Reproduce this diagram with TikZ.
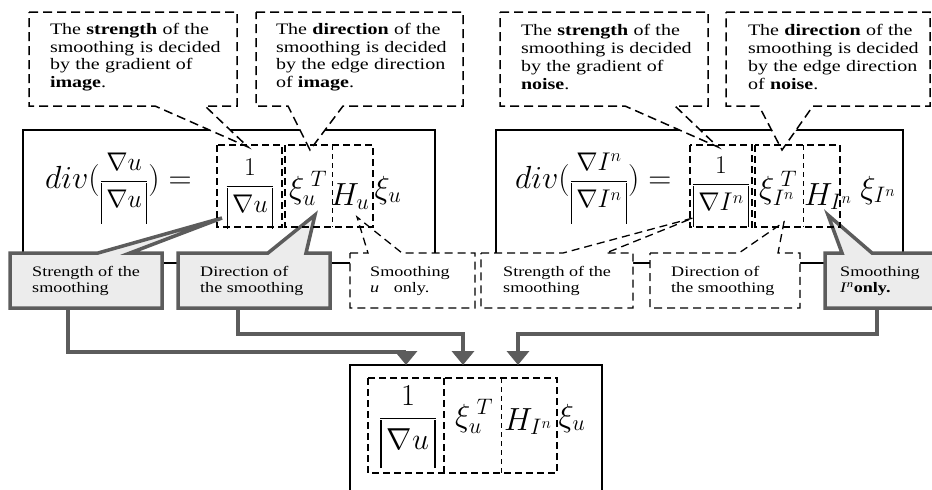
\RequirePackage{fix-cm}
\documentclass[tikz,border=0pt]{standalone}
\usepackage{fontspec}
\setmainfont{Liberation Serif}[FakeStretch=1.25]
\usepackage{graphicx}
\usetikzlibrary{arrows.meta}
\definecolor{callgray}{HTML}{5C5C5C}
\definecolor{callfill}{HTML}{ECECEC}
\newcommand{\termfrac}[3][0.8]{\scalebox{#1}{$\displaystyle\frac{#2}{#3}$}}
\newcommand{\absbar}[1]{\vrule width 1.6pt height 31pt depth 20pt\,#1\,\vrule width 1.6pt height 31pt depth 20pt}
\newcommand{\fullline}[1]{\makebox[172pt][s]{#1}}

\begin{document}
\begin{tikzpicture}[x=1pt, y=-1pt,
    frame/.style={draw, line width=2.4pt},
    note/.style={draw, fill=white, line width=1.5pt, dash pattern=on 9pt off 5pt},
    lownote/.style={draw, fill=white, line width=1.3pt, dash pattern=on 8pt off 5pt},
    greycall/.style={draw=callgray, fill=callfill, line width=3.5pt},
    term/.style={draw, line width=2pt, dash pattern=on 7pt off 4pt},
    divider/.style={draw, line width=1pt, dash pattern=on 5pt off 4pt},
    notetext/.style={font=\fontsize{16}{17.7}\selectfont, text width=172pt, align=left, inner sep=0pt},
    tag/.style={font=\fontsize{14.5}{16}\selectfont, align=left, anchor=west, inner sep=0pt},
    eq/.style={inner sep=0pt, anchor=base, font=\fontsize{32}{36}\selectfont},
    garr/.style={draw=callgray, line width=4.5pt, -{Triangle[width=22pt,length=14pt]}}
]
    \useasboundingbox (0,0) rectangle (932,490);

    % formula frames
    \draw[frame] (23,130) rectangle (435,263);
    \draw[frame] (496,130) rectangle (903,263);
    \draw[frame] (350,495) -- (350,365) -- (602,365) -- (602,495);

    % upper notes
    \draw[note] (29,12) -- (237,12) -- (237,106) -- (205,106) -- (248,147) -- (155,106) -- (29,106) -- cycle;
    \node[notetext] (strImg) at (136,57) {\fullline{The \textbf{strength} of the}\\\fullline{smoothing is decided}\\\fullline{by the gradient of}\\\textbf{image}.};
    \draw[note] (256,12) -- (463,12) -- (463,106) -- (343,106) -- (310,150) -- (288,106) -- (256,106) -- cycle;
    \node[notetext] (dirImg) at (362,57) {\fullline{The \textbf{direction} of the}\\\fullline{smoothing is decided}\\\fullline{by the edge direction}\\of \textbf{image}.};
    \draw[note] (500,12) -- (708,12) -- (708,106) -- (675,106) -- (718,147) -- (625,106) -- (500,106) -- cycle;
    \node[notetext] (strNoi) at (607,57) {\fullline{The \textbf{strength} of the}\\\fullline{smoothing is decided}\\\fullline{by the gradient of}\\\textbf{noise}.};
    \draw[note] (726,12) -- (930,12) -- (930,106) -- (813,106) -- (782,150) -- (759,106) -- (726,106) -- cycle;
    \node[notetext] (dirNoi) at (834,57) {\fullline{The \textbf{direction} of the}\\\fullline{smoothing is decided}\\\fullline{by the edge direction}\\of \textbf{noise}.};

    % lower tags
    \draw[greycall] (10,253) -- (98,253) -- (222,218) -- (130,253) -- (162,253) -- (162,308) -- (10,308) -- cycle;
    \node[tag] (strTag) at (32,281) {Strength of the\\smoothing};
    \draw[greycall] (178,253) -- (268,253) -- (315,215) -- (306,253) -- (330,253) -- (330,308) -- (178,308) -- cycle;
    \node[tag] (dirTag) at (200,281) {Direction of\\the smoothing};
    \draw[lownote] (350,253) -- (368,253) -- (357,217) -- (402,253) -- (475,253) -- (475,308) -- (350,308) -- cycle;
    \node[tag] (uTag) at (370,281) {Smoothing\\\textit{u}\quad only.};
    \draw[lownote] (481,253) -- (563,253) -- (693,218) -- (606,253) -- (633,253) -- (633,308) -- (481,308) -- cycle;
    \node[tag] (strTagN) at (503,281) {Strength of the\\smoothing};
    \draw[lownote] (650,253) -- (739,253) -- (784,222) -- (778,253) -- (800,253) -- (800,308) -- (650,308) -- cycle;
    \node[tag] (dirTagN) at (671,281) {Direction of\\the smoothing};
    \draw[greycall] (825,253) -- (842,253) -- (828,215) -- (872,253) -- (940,253) -- (940,308) -- (825,308) -- cycle;
    \node[tag] (nTag) at (840,281) {Smoothing\\\textit{I}\textsuperscript{\textit{n}}\textbf{only.}};

    % left formula
    \draw[term] (217,145) rectangle (282,227);
    \draw[term] (285,145) rectangle (373,227);
    \draw[divider] (332,145) -- (332,227);
    \node[eq, anchor=base west] (lhsU) at (45,188) {$div(\termfrac{\nabla u}{\absbar{\nabla u}})=$};
    \node[eq] (fracU) at (250,193) {\termfrac{1}{\absbar{\nabla u}}};
    \node[eq] (xiTU) at (308,198) {$\xi_u^{\;T}$};
    \node[eq] (hU) at (350,205) {$H_u$};
    \node[eq] (xiU) at (388,198) {$\xi_u$};

    % right formula
    \draw[term] (690,145) rectangle (752,227);
    \draw[term] (755,145) rectangle (840,227);
    \draw[divider] (803,145) -- (803,227);
    \node[eq, anchor=base west] (lhsN) at (515,188) {$div(\termfrac{\nabla I^n}{\absbar{\nabla I^n}})=$};
    \node[eq] (fracN) at (721,191) {\termfrac{1}{\absbar{\nabla I^n}}};
    \node[eq] (xiTN) at (778,198) {$\xi_{I^n}^{\;T}$};
    \node[eq] (hN) at (828,205) {$H_{I^n}$};
    \node[eq] (xiN) at (878,198) {$\xi_{I^n}$};

    % combined formula
    \draw[term] (368,378) rectangle (557,473);
    \draw[term] (444,378) -- (444,473);
    \draw[divider] (501,378) -- (501,473);
    \node[eq] (fracC) at (408,426) {\termfrac[0.95]{1}{\absbar{\nabla u}}};
    \node[eq] (xiTC) at (474,426) {$\xi_u^{\;T}$};
    \node[eq] (hC) at (528,430) {$H_{I^n}$};
    \node[eq] (xiC) at (572,426) {$\xi_u$};

    % arrows
    \coordinate (s1) at (68,308);
    \coordinate (s2) at (238,308);
    \coordinate (s3) at (877,308);
    \coordinate (in1) at (406,365);
    \coordinate (in2) at (463,365);
    \coordinate (in3) at (518,365);
    \draw[garr] (s1) -- ++(0,44) -| (in1);
    \draw[garr] (s2) -- ++(0,26) -| (in2);
    \draw[garr] (s3) -- ++(0,26) -| (in3);
\end{tikzpicture}
\end{document}
